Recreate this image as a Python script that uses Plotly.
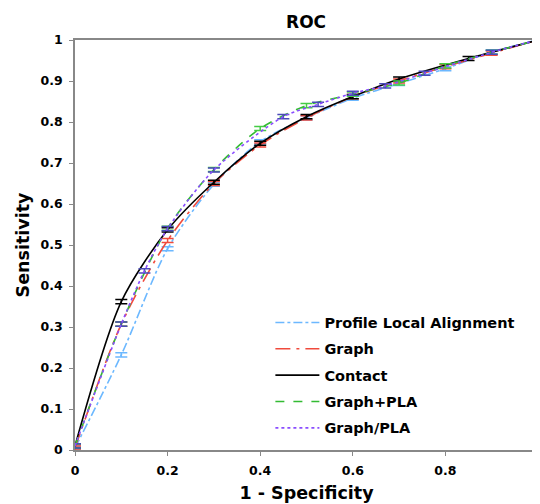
import plotly.graph_objects as go

# Data
pla_x = [0, 0.1, 0.2, 0.3, 0.4, 0.5, 0.6, 0.7, 0.8, 0.9, 1.0]
pla_y = [0.005, 0.232, 0.491, 0.648, 0.752, 0.810, 0.858, 0.894, 0.930, 0.971, 1.0]

graph_x = [0, 0.1, 0.2, 0.3, 0.4, 0.5, 0.6, 0.7, 0.8, 0.9, 1.0]
graph_y = [0.005, 0.307, 0.511, 0.650, 0.744, 0.810, 0.862, 0.900, 0.935, 0.968, 1.0]

contact_x = [0, 0.1, 0.2, 0.3, 0.4, 0.5, 0.6, 0.7, 0.85, 1.0]
contact_y = [0.01, 0.362, 0.537, 0.653, 0.748, 0.813, 0.862, 0.905, 0.955, 1.0]

gpla_x = [0, 0.1, 0.2, 0.3, 0.4, 0.5, 0.6, 0.7, 0.8, 0.9, 1.0]
gpla_y = [0.01, 0.307, 0.541, 0.684, 0.784, 0.840, 0.868, 0.895, 0.937, 0.970, 1.0]

gdiv_x = [0, 0.1, 0.15, 0.2, 0.3, 0.45, 0.525, 0.6, 0.67, 0.755, 0.9, 1.0]
gdiv_y = [0.01, 0.307, 0.437, 0.540, 0.683, 0.813, 0.843, 0.870, 0.888, 0.919, 0.970, 1.0]

err = 0.005

series = [
    ("Profile Local Alignment", pla_x, pla_y, "#6cb8ff", "dashdot", "#6cb8ff"),
    ("Graph", graph_x, graph_y, "#f04a3c", "longdashdot", "#f04a3c"),
    ("Contact", contact_x, contact_y, "#000000", "solid", "#000000"),
    ("Graph+PLA", gpla_x, gpla_y, "#33bb33", "dash", "#44cc44"),
    ("Graph/PLA", gdiv_x, gdiv_y, "#8a4dff", "dot", "#4a4ab8"),
]

fig = go.Figure()
for i, (name, xs, ys, col, dash, ecol) in enumerate(series):
    fig.add_trace(go.Scatter(
        x=xs, y=ys, name=name, mode="lines", legendgroup=f"g{i}",
        line=dict(color=col, dash=dash, width=1.6, shape="spline", smoothing=0.8),
        error_y=dict(type="data", array=[err] * len(xs), visible=True,
                     color=ecol, thickness=1.5, width=6),
    ))

font_family = "DejaVu Sans"
axis_common = dict(
    showgrid=False, zeroline=False, showline=True, linecolor="#888888", linewidth=1.5,
    mirror=True, ticks="outside", ticklen=4, tickcolor="#888888", automargin=False,
    ticklabelstandoff=4,
    tickfont=dict(family=font_family, size=12.5, color="#000000", weight="bold"),
)

fig.update_layout(
    width=540, height=504, autosize=False,
    margin=dict(l=67, r=10, t=32, b=62, autoexpand=False),
    paper_bgcolor="white", plot_bgcolor="white",
    title=dict(text="<b>ROC</b>", x=0.552, xanchor="center", y=0.972, yanchor="middle",
               font=dict(family=font_family, size=17, color="#000000")),
    xaxis=dict(range=[0, 1], dtick=0.2, tickformat="~g",
               title=dict(text="<b>1 - Specificity</b>", standoff=10,
                          font=dict(family=font_family, size=17.5, color="#000000")),
               **axis_common),
    yaxis=dict(range=[0, 1], dtick=0.1, tickformat="~g",
               title=dict(text="<b>Sensitivity</b>", standoff=6,
                          font=dict(family=font_family, size=17.5, color="#000000")),
               **axis_common),
    legend=dict(x=0.422, y=0.35, xanchor="left", yanchor="top",
                bgcolor="rgba(255,255,255,0)",
                font=dict(family=font_family, size=14.5, color="#000000", weight="bold"),
                tracegroupgap=4.5, itemwidth=44),
    showlegend=True,
)

fig.write_html("out.html", config={"responsive": False})
